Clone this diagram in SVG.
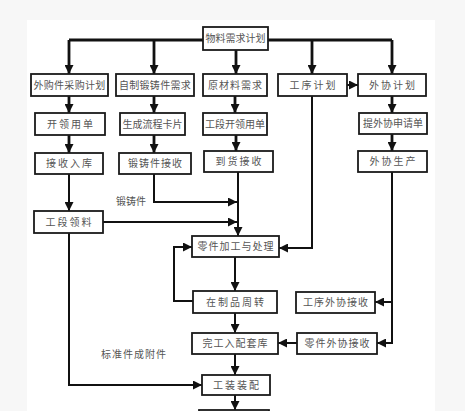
<svg xmlns="http://www.w3.org/2000/svg" width="465" height="411" viewBox="0 0 465 411">
<defs>
<marker id="ah" markerUnits="userSpaceOnUse" markerWidth="9" markerHeight="9" refX="9" refY="4.5" orient="auto">
<path d="M0,0 L9,4.5 L0,9 z" fill="#111"/>
</marker>
<style>
.bx{fill:#fff;stroke:#1a1a1a;stroke-width:1.8}
.t{font-family:"Noto Sans CJK SC","Liberation Sans",sans-serif;font-size:10px;fill:#555;text-anchor:middle}
.w{letter-spacing:2px}
.m{letter-spacing:1px}
.c{fill:none;stroke:#111;stroke-width:2}
.ck{fill:none;stroke:#111;stroke-width:2.8}
.a{marker-end:url(#ah)}
</style>
</defs>
<rect width="465" height="411" fill="#f7f7f7"/>
<rect x="27" y="20" width="408" height="391" fill="#fff"/>
<g id="connectors">
<path class="ck" d="M69,40 H392"/>
<path class="ck a" d="M69,40 V74"/>
<path class="ck a" d="M154,40 V74"/>
<path class="ck a" d="M236,50 V74"/>
<path class="ck a" d="M312,40 V74"/>
<path class="ck a" d="M392,40 V74"/>
<path class="c a" d="M347,85 H358"/>
<path class="ck a" d="M69,96 V113"/>
<path class="ck a" d="M154,96 V113"/>
<path class="ck a" d="M235,96 V113"/>
<path class="ck a" d="M392,96 V113"/>
<path class="ck a" d="M69,135 V153"/>
<path class="ck a" d="M154,135 V153"/>
<path class="ck a" d="M236,135 V151"/>
<path class="ck a" d="M392,134 V151"/>
<path class="c a" d="M69,174 V211"/>
<path class="c a" d="M154,174 V202 H237"/>
<path class="c a" d="M103,222 H237"/>
<path class="c a" d="M238,172 V236"/>
<path class="c a" d="M312,96 V248 H279"/>
<path class="c a" d="M235,257 V291"/>
<path class="c a" d="M193,301 H174 V247 H192"/>
<path class="c a" d="M235,313 V333"/>
<path class="c a" d="M392,172 V343 H377"/>
<path class="c a" d="M392,302 H375"/>
<path class="c a" d="M297,343 H278"/>
<path class="c a" d="M235,354 V375"/>
<path class="c a" d="M69,233 V385 H202"/>
<path class="c a" d="M235,395 V410"/>
</g>
<g id="n_top"><rect class="bx" x="203" y="27" width="65" height="23"/><text class="t" x="235.5" y="42">物料需求计划</text></g>
<g id="n_r1a"><rect class="bx" x="31" y="74" width="77" height="22"/><text class="t" x="69.5" y="88.5" style="letter-spacing:0.3px">外购件采购计划</text></g>
<g id="n_r1b"><rect class="bx" x="116" y="74" width="78" height="22"/><text class="t" x="155" y="88.5" style="letter-spacing:0.3px">自制锻铸件需求</text></g>
<g id="n_r1c"><rect class="bx" x="203" y="74" width="64" height="22"/><text class="t m" x="235.5" y="88.5">原材料需求</text></g>
<g id="n_r1d"><rect class="bx" x="278" y="74" width="69" height="22"/><text class="t w" x="313.5" y="88.5">工序计划</text></g>
<g id="n_r1e"><rect class="bx" x="358" y="74" width="68" height="22"/><text class="t w" x="393" y="88.5">外协计划</text></g>
<g id="n_r2a"><rect class="bx" x="35" y="113" width="70" height="22"/><text class="t w" x="71" y="127.5">开领用单</text></g>
<g id="n_r2b"><rect class="bx" x="120" y="113" width="65" height="22"/><text class="t" x="152.5" y="127.5">生成流程卡片</text></g>
<g id="n_r2c"><rect class="bx" x="203" y="113" width="64" height="22"/><text class="t" x="235" y="127.5">工段开领用单</text></g>
<g id="n_r2e"><rect class="bx" x="359" y="113" width="68" height="21"/><text class="t" x="393" y="127">提外协申请单</text></g>
<g id="n_r3a"><rect class="bx" x="35" y="153" width="68" height="21"/><text class="t w" x="70" y="167">接收入库</text></g>
<g id="n_r3b"><rect class="bx" x="119" y="153" width="72" height="21"/><text class="t m" x="155.5" y="167">锻铸件接收</text></g>
<g id="n_r3c"><rect class="bx" x="204" y="151" width="69" height="21"/><text class="t w" x="239.5" y="165">到货接收</text></g>
<g id="n_r3e"><rect class="bx" x="358" y="151" width="69" height="21"/><text class="t w" x="393.5" y="165">外协生产</text></g>
<g id="n_gdll"><rect class="bx" x="34" y="211" width="69" height="22"/><text class="t w" x="69.5" y="225.5">工段领料</text></g>
<g id="n_ljjg"><rect class="bx" x="192" y="236" width="87" height="21"/><text class="t m" x="236" y="250">零件加工与处理</text></g>
<g id="n_zzp"><rect class="bx" x="193" y="291" width="84" height="22"/><text class="t w" x="236" y="305.5">在制品周转</text></g>
<g id="n_gxwx"><rect class="bx" x="296" y="292" width="79" height="21"/><text class="t m" x="336" y="306">工序外协接收</text></g>
<g id="n_wgrk"><rect class="bx" x="192" y="333" width="86" height="21"/><text class="t m" x="235.5" y="347">完工入配套库</text></g>
<g id="n_ljwx"><rect class="bx" x="297" y="333" width="80" height="21"/><text class="t m" x="337.5" y="347">零件外协接收</text></g>
<g id="n_gzzp"><rect class="bx" x="202" y="375" width="68" height="20"/><text class="t w" x="237" y="388.5">工装装配</text></g>
<g id="n_next"><rect class="bx" x="199" y="410" width="70" height="20"/></g>
<g id="labels">
<text class="t" x="131" y="204.5">锻铸件</text>
<text class="t m" x="134" y="357.5">标准件成附件</text>
</g>
</svg>
